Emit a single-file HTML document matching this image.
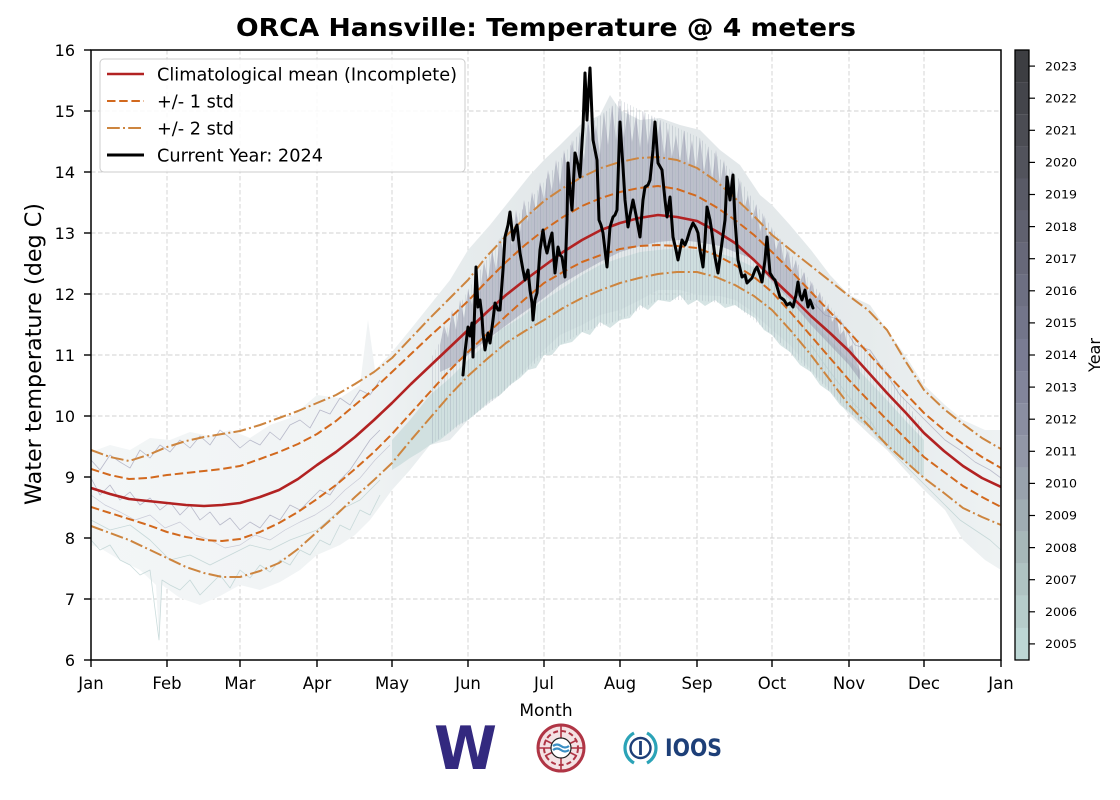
<!DOCTYPE html>
<html><head><meta charset="utf-8"><style>
html,body{margin:0;padding:0;background:#fff;}
svg{display:block;}
text{font-family:"DejaVu Sans","Liberation Sans",sans-serif;fill:#000;}
</style></head><body>
<svg width="1120" height="800" viewBox="0 0 1120 800" xmlns="http://www.w3.org/2000/svg">
<defs>
<clipPath id="plot"><rect x="91" y="50" width="910" height="610"/></clipPath>
<linearGradient id="faint" gradientUnits="userSpaceOnUse" x1="91" y1="0" x2="1001" y2="0">
<stop offset="0" stop-color="#f3f6f7"/>
<stop offset="0.3" stop-color="#f0f3f4"/>
<stop offset="0.38" stop-color="#e8edee"/>
<stop offset="0.5" stop-color="#e3e8ea"/>
<stop offset="0.72" stop-color="#e3e8ea"/>
<stop offset="0.85" stop-color="#e6ebec"/>
<stop offset="1" stop-color="#eef2f3"/>
</linearGradient>
<pattern id="spk" width="6" height="40" patternUnits="userSpaceOnUse">
<line x1="0.5" y1="0" x2="0.5" y2="40" stroke="#7f8299" stroke-width="0.7" stroke-opacity="0.35"/>
<line x1="3.5" y1="0" x2="3.5" y2="40" stroke="#9fb6b8" stroke-width="0.7" stroke-opacity="0.35"/>
</pattern>
</defs>
<rect width="1120" height="800" fill="#fff"/>

<!-- grid -->
<g stroke="#d0d0d0" stroke-width="0.9" stroke-dasharray="4.5 2.5" fill="none">
<line x1="167" y1="50" x2="167" y2="660"/><line x1="240" y1="50" x2="240" y2="660"/>
<line x1="317" y1="50" x2="317" y2="660"/><line x1="392" y1="50" x2="392" y2="660"/>
<line x1="468" y1="50" x2="468" y2="660"/><line x1="544" y1="50" x2="544" y2="660"/>
<line x1="620" y1="50" x2="620" y2="660"/><line x1="697" y1="50" x2="697" y2="660"/>
<line x1="772" y1="50" x2="772" y2="660"/><line x1="849" y1="50" x2="849" y2="660"/>
<line x1="924" y1="50" x2="924" y2="660"/>
<line x1="91" y1="111" x2="1001" y2="111"/><line x1="91" y1="172" x2="1001" y2="172"/>
<line x1="91" y1="233" x2="1001" y2="233"/><line x1="91" y1="294" x2="1001" y2="294"/>
<line x1="91" y1="355" x2="1001" y2="355"/><line x1="91" y1="416" x2="1001" y2="416"/>
<line x1="91" y1="477" x2="1001" y2="477"/><line x1="91" y1="538" x2="1001" y2="538"/>
<line x1="91" y1="599" x2="1001" y2="599"/>
</g>

<g clip-path="url(#plot)">
<!-- background traces approximated -->
<polygon fill="url(#faint)" points="91,452 110,445 130,450 150,438 170,440 190,432 210,436 230,430 250,438 270,425 290,418 317,395 340,398 360,385 368,320 375,370 392,352 410,330 430,305 450,280 468,250 490,225 510,200 530,175 544,160 560,145 580,125 600,115 610,95 620,110 640,120 660,118 680,125 700,130 720,150 740,165 760,195 772,205 790,225 811,250 830,275 849,295 870,305 887,330 905,355 924,385 945,405 963,420 985,430 1001,430 1001,570 985,560 963,540 945,510 924,490 905,470 887,450 870,435 849,415 830,390 811,370 790,345 772,330 750,310 735,300 720,296 697,295 680,290 658,290 640,300 620,310 600,315 582,325 560,335 544,350 520,375 500,395 480,410 468,420 450,440 430,445 410,470 392,490 370,520 355,535 340,545 317,555 300,570 280,582 260,590 240,585 220,596 200,605 180,598 162,585 159,640 156,585 140,570 120,560 100,548 91,545"/>
<polygon fill="#c8dbdb" fill-opacity="0.75" points="392,440 410,420 430,395 450,378 468,360 485,345 500,330 520,318 544,300 560,290 582,275 600,265 620,258 640,252 658,250 680,248 697,250 715,252 735,258 755,268 772,282 790,300 811,320 830,340 849,360 870,382 887,400 905,420 924,440 924,478 915,470 905,462 896,455 887,445 878,440 870,428 860,422 849,412 840,405 830,392 820,385 811,372 800,365 790,352 780,345 772,335 764,330 755,318 745,312 735,305 725,308 715,300 705,306 697,300 688,305 680,295 670,302 658,300 648,310 640,305 630,318 620,320 610,328 600,322 590,335 582,332 572,342 560,345 552,355 544,355 536,368 528,370 520,378 510,385 500,395 490,400 480,410 468,420 458,425 450,432 440,440 430,445 420,452 410,458 400,465 392,470"/>
<polygon fill="#8a8ca4" fill-opacity="0.44" points="440,345 444,325 448,338 452,310 456,330 460,300 464,318 468,290 472,305 476,270 480,292 484,262 488,280 492,250 496,270 500,238 504,255 508,222 512,245 516,210 520,232 524,200 528,222 532,192 536,212 540,182 544,200 548,170 552,192 556,160 560,185 564,150 568,175 572,140 576,168 580,132 584,160 588,118 592,150 596,125 600,155 604,112 608,145 612,105 616,140 620,100 624,138 628,108 632,142 636,115 640,148 644,110 648,145 652,115 656,150 660,120 664,155 668,128 672,158 676,135 680,162 684,130 688,165 692,140 696,170 700,138 704,172 708,148 712,180 716,150 720,185 724,160 728,192 732,170 736,200 740,180 744,210 748,195 752,220 756,205 760,232 764,215 768,240 772,228 776,250 780,238 784,262 788,250 792,272 796,260 800,282 804,272 808,292 812,282 816,300 820,292 824,312 828,305 832,322 836,315 840,335 844,330 848,348 852,345 856,360 860,370 860,380 849,365 830,345 811,325 790,300 772,282 760,268 750,258 735,252 720,246 697,242 680,240 658,242 640,246 620,252 600,262 582,272 560,285 544,298 520,315 500,330 480,345 468,355 455,365 440,372"/>
<polygon fill="url(#spk)" points="430,360 468,290 500,238 544,182 580,132 620,100 660,120 700,138 740,180 772,228 811,282 849,330 887,370 924,430 924,478 887,445 849,412 811,372 772,335 735,305 697,300 658,300 620,320 582,332 544,355 500,395 468,420 430,445"/>
<g fill="none" stroke-linejoin="round">
<polyline stroke="#8a8aa8" stroke-opacity="0.55" stroke-width="0.8" points="91,460 100,470 110,455 120,462 130,468 140,450 150,458 160,445 170,452 180,440 190,448 200,436 210,445 220,430 230,438 240,448 250,440 260,445 270,432 280,440 290,425 300,420 310,428 320,410 330,414 340,398 350,405 360,390 370,395 380,380"/>
<polyline stroke="#8a8aa8" stroke-opacity="0.55" stroke-width="0.8" points="91,478 100,495 110,485 120,500 130,492 140,505 150,498 160,510 170,502 180,515 190,505 200,520 210,512 220,525 230,518 240,530 250,522 260,528 270,515 280,520 290,505 300,510 310,500 320,490 330,495 340,480 350,470 360,455 370,440 380,430"/>
<polyline stroke="#9a9ab4" stroke-opacity="0.45" stroke-width="0.7" points="91,495 105,505 120,512 135,520 150,515 165,528 180,522 195,535 210,540 225,548 240,545 255,535 270,540 285,530 300,522 315,515 330,505 345,490 360,478 375,460 390,445"/>
<polyline stroke="#b5cdcd" stroke-opacity="0.7" stroke-width="0.8" points="91,540 100,550 110,545 120,560 130,565 140,575 150,570 159,640 162,580 170,585 180,590 190,580 200,595 210,585 220,575 230,588 240,570 250,578 260,565 270,572 280,560 290,565 300,550 310,555 320,540 330,545 340,525 350,530 360,510 370,515 380,495"/>
<polyline stroke="#b5cdcd" stroke-opacity="0.7" stroke-width="0.8" points="91,520 110,530 130,525 150,540 170,560 190,555 210,565 230,555 250,545 270,550 290,540 317,530 340,510 360,500 380,480"/>
<polyline stroke="#8a8aa8" stroke-opacity="0.5" stroke-width="0.8" points="811,300 825,315 840,320 855,345 870,350 885,372 900,395 915,410 930,425 945,440 960,450 975,462 990,470 1001,478"/>
<polyline stroke="#b5cdcd" stroke-opacity="0.7" stroke-width="0.8" points="811,345 825,365 840,385 855,405 870,420 885,445 900,460 915,475 930,490 945,505 960,520 975,530 990,540 1001,550"/>
</g>

<!-- climatology lines -->
<g fill="none" stroke-linejoin="round">
<polyline stroke="#cd853f" stroke-width="2" stroke-dasharray="12.8 3.2 2 3.2" points="91,450 110,457 129,461 148,455 167,447 186,441 204,437 222,434 240,431 260,425 279,418 298,411 317,403 336,395 355,384 374,372 392,358 411,338 430,318 449,299 468,280 487,256 506,236 525,218 544,201 563,188 582,177 601,168 620,162 639,158 658,157 677,160 697,168 716,181 735,198 754,216 772,235 792,251 811,266 830,281 849,296 868,310 887,330 906,362 924,390 944,409 963,424 982,438 1001,449"/>
<polyline stroke="#d2691e" stroke-width="2" stroke-dasharray="8.5 3.7" points="91,469 110,475 129,479 148,478 167,475 186,473 204,471 222,469 240,466 260,459 279,452 298,444 317,434 336,421 355,405 374,389 392,372 411,354 430,336 449,319 468,301 487,281 506,262 525,245 544,230 563,217 582,206 601,198 620,192 639,188 658,186 677,189 697,196 716,207 735,220 754,235 772,252 792,272 811,292 830,312 849,332 868,353 887,374 906,394 924,413 944,430 963,444 982,457 1001,468"/>
<polyline stroke="#b22222" stroke-width="2.6" points="91,488 110,494 129,499 148,501 167,503 186,505 204,506 222,505 240,503 260,497 279,490 298,479 317,465 336,452 355,437 374,420 392,403 411,384 430,366 449,348 468,330 487,312 506,295 525,280 544,266 563,252 582,240 601,230 620,223 639,218 658,215 677,217 697,221 716,231 735,243 754,260 772,278 792,297 811,316 830,333 849,351 868,372 887,393 906,413 924,433 944,451 963,466 982,478 1001,487"/>
<polyline stroke="#d2691e" stroke-width="2" stroke-dasharray="8.5 3.7" points="91,507 110,513 129,519 148,525 167,532 186,537 204,540 222,541 240,539 260,532 279,523 298,512 317,499 336,485 355,469 374,452 392,434 411,413 430,392 449,371 468,352 487,334 506,316 525,299 544,283 563,272 582,262 601,255 620,249 639,246 658,245 677,246 697,248 716,255 735,265 754,277 772,292 792,314 811,336 830,358 849,380 868,400 887,420 906,439 924,457 944,472 963,486 982,497 1001,507"/>
<polyline stroke="#cd853f" stroke-width="2" stroke-dasharray="12.8 3.2 2 3.2" points="91,526 110,533 129,540 148,549 167,558 186,567 204,573 222,577 240,577 260,571 279,563 298,549 317,532 336,515 355,497 374,480 392,463 411,440 430,418 449,396 468,376 487,359 506,343 525,331 544,320 563,308 582,298 601,290 620,283 639,278 658,274 677,272 697,272 716,277 735,285 754,296 772,310 792,332 811,355 830,380 849,405 868,425 887,445 906,462 924,478 944,493 963,508 982,517 1001,525"/>
</g>

<!-- current year -->
<polyline fill="none" stroke="#000" stroke-width="3" stroke-linejoin="round" stroke-linecap="round" points="463,375 465,352 468,327 470,336 472,323 473,357 475,300 476,267 478,307 480,300 482,317 483,333 485,350 488,333 490,343 493,320 495,303 498,310 500,310 503,270 505,237 508,225 510,212 513,240 515,230 517,225 520,253 523,270 525,280 528,270 530,290 532,303 533,320 535,300 537,293 540,250 543,230 545,245 547,253 550,240 552,233 555,273 558,247 560,255 562,257 565,277 567,220 568,163 570,190 572,210 575,153 578,165 580,177 583,127 585,73 587,120 588,100 590,68 593,140 595,150 597,160 599,220 601,225 603,233 605,250 607,267 610,227 613,217 615,215 617,210 619,150 620,122 623,167 625,200 628,227 630,215 633,200 636,215 640,237 643,200 645,187 648,185 650,180 653,150 655,122 658,163 662,170 665,200 667,217 670,197 673,237 676,250 678,260 680,250 682,240 685,245 687,240 690,230 693,223 696,228 698,233 700,250 703,267 705,240 707,207 710,220 712,233 715,257 718,273 721,250 725,220 727,177 730,200 733,175 735,220 738,260 742,277 745,275 747,283 750,280 752,278 755,270 757,267 760,275 762,282 765,260 767,237 770,273 773,278 775,280 778,290 780,297 784,300 787,305 790,303 793,307 796,295 798,282 800,295 802,300 805,290 808,307 810,300 813,308"/>
</g>

<!-- axes frame -->
<rect x="91" y="50" width="910" height="610" fill="none" stroke="#000" stroke-width="1.5"/>
<!-- ticks -->
<g stroke="#000" stroke-width="1.4">
<line x1="84" y1="50" x2="91" y2="50"/><line x1="84" y1="111" x2="91" y2="111"/>
<line x1="84" y1="172" x2="91" y2="172"/><line x1="84" y1="233" x2="91" y2="233"/>
<line x1="84" y1="294" x2="91" y2="294"/><line x1="84" y1="355" x2="91" y2="355"/>
<line x1="84" y1="416" x2="91" y2="416"/><line x1="84" y1="477" x2="91" y2="477"/>
<line x1="84" y1="538" x2="91" y2="538"/><line x1="84" y1="599" x2="91" y2="599"/>
<line x1="84" y1="660" x2="91" y2="660"/>
<line x1="91" y1="660" x2="91" y2="667"/><line x1="167" y1="660" x2="167" y2="667"/>
<line x1="240" y1="660" x2="240" y2="667"/><line x1="317" y1="660" x2="317" y2="667"/>
<line x1="392" y1="660" x2="392" y2="667"/><line x1="468" y1="660" x2="468" y2="667"/>
<line x1="544" y1="660" x2="544" y2="667"/><line x1="620" y1="660" x2="620" y2="667"/>
<line x1="697" y1="660" x2="697" y2="667"/><line x1="772" y1="660" x2="772" y2="667"/>
<line x1="849" y1="660" x2="849" y2="667"/><line x1="924" y1="660" x2="924" y2="667"/>
<line x1="1001" y1="660" x2="1001" y2="667"/>
</g>
<g font-size="16" text-anchor="end">
<text x="75" y="56">16</text><text x="75" y="117">15</text><text x="75" y="178">14</text>
<text x="75" y="239">13</text><text x="75" y="300">12</text><text x="75" y="361">11</text>
<text x="75" y="422">10</text><text x="75" y="483">9</text><text x="75" y="544">8</text>
<text x="75" y="605">7</text><text x="75" y="666">6</text>
</g>
<g font-size="16.5" text-anchor="middle">
<text x="91" y="689">Jan</text><text x="167" y="689">Feb</text><text x="240" y="689">Mar</text>
<text x="317" y="689">Apr</text><text x="392" y="689">May</text><text x="468" y="689">Jun</text>
<text x="544" y="689">Jul</text><text x="620" y="689">Aug</text><text x="697" y="689">Sep</text>
<text x="772" y="689">Oct</text><text x="849" y="689">Nov</text><text x="924" y="689">Dec</text>
<text x="1001" y="689">Jan</text>
</g>
<text x="546" y="716" font-size="17" text-anchor="middle">Month</text>
<text transform="translate(41,354) rotate(-90)" font-size="22" text-anchor="middle" textLength="302" lengthAdjust="spacingAndGlyphs">Water temperature (deg C)</text>
<text x="546" y="36" font-size="25" font-weight="bold" text-anchor="middle" textLength="620" lengthAdjust="spacingAndGlyphs">ORCA Hansville: Temperature @ 4 meters</text>

<!-- legend -->
<rect x="100" y="59" width="365" height="113" rx="4" fill="#fff" fill-opacity="0.85" stroke="#cccccc" stroke-width="1"/>
<line x1="107" y1="74" x2="144" y2="74" stroke="#b22222" stroke-width="2.6"/>
<line x1="107" y1="101" x2="144" y2="101" stroke="#d2691e" stroke-width="2" stroke-dasharray="8.5 3.7"/>
<line x1="107" y1="128" x2="144" y2="128" stroke="#cd853f" stroke-width="2" stroke-dasharray="12.8 3.2 2 3.2"/>
<line x1="107" y1="155" x2="144" y2="155" stroke="#000" stroke-width="3"/>
<g font-size="17.5">
<text x="157" y="80.5" textLength="300" lengthAdjust="spacingAndGlyphs">Climatological mean (Incomplete)</text>
<text x="157" y="107.5" textLength="77" lengthAdjust="spacingAndGlyphs">+/- 1 std</text>
<text x="157" y="134.5" textLength="77" lengthAdjust="spacingAndGlyphs">+/- 2 std</text>
<text x="157" y="161.5" textLength="166" lengthAdjust="spacingAndGlyphs">Current Year: 2024</text>
</g>

<!-- colorbar -->
<g>
<rect x="1015" y="50.00" width="14" height="32.2" fill="#3d3e42"/>
<rect x="1015" y="82.11" width="14" height="32.2" fill="#44454b"/>
<rect x="1015" y="114.21" width="14" height="32.2" fill="#4b4c53"/>
<rect x="1015" y="146.32" width="14" height="32.2" fill="#52535c"/>
<rect x="1015" y="178.42" width="14" height="32.2" fill="#595a66"/>
<rect x="1015" y="210.53" width="14" height="32.2" fill="#60616f"/>
<rect x="1015" y="242.63" width="14" height="32.2" fill="#676879"/>
<rect x="1015" y="274.74" width="14" height="32.2" fill="#6d6f82"/>
<rect x="1015" y="306.84" width="14" height="32.2" fill="#73758a"/>
<rect x="1015" y="338.95" width="14" height="32.2" fill="#7a7c93"/>
<rect x="1015" y="371.05" width="14" height="32.2" fill="#82859a"/>
<rect x="1015" y="403.16" width="14" height="32.2" fill="#8a8ea1"/>
<rect x="1015" y="435.26" width="14" height="32.2" fill="#9297a7"/>
<rect x="1015" y="467.37" width="14" height="32.2" fill="#99a2ad"/>
<rect x="1015" y="499.47" width="14" height="32.2" fill="#a0adb3"/>
<rect x="1015" y="531.58" width="14" height="32.2" fill="#a7b8b9"/>
<rect x="1015" y="563.68" width="14" height="32.2" fill="#afc3c2"/>
<rect x="1015" y="595.79" width="14" height="32.2" fill="#b6cdcb"/>
<rect x="1015" y="627.89" width="14" height="32.11" fill="#bdd7d5"/>
<rect x="1015" y="50" width="14" height="610" fill="none" stroke="#000" stroke-width="1.3"/>
</g>
<g stroke="#000" stroke-width="1.2">
<line x1="1029" y1="66.1" x2="1035" y2="66.1"/><line x1="1029" y1="98.2" x2="1035" y2="98.2"/>
<line x1="1029" y1="130.3" x2="1035" y2="130.3"/><line x1="1029" y1="162.4" x2="1035" y2="162.4"/>
<line x1="1029" y1="194.5" x2="1035" y2="194.5"/><line x1="1029" y1="226.6" x2="1035" y2="226.6"/>
<line x1="1029" y1="258.7" x2="1035" y2="258.7"/><line x1="1029" y1="290.8" x2="1035" y2="290.8"/>
<line x1="1029" y1="322.9" x2="1035" y2="322.9"/><line x1="1029" y1="355.0" x2="1035" y2="355.0"/>
<line x1="1029" y1="387.1" x2="1035" y2="387.1"/><line x1="1029" y1="419.2" x2="1035" y2="419.2"/>
<line x1="1029" y1="451.3" x2="1035" y2="451.3"/><line x1="1029" y1="483.4" x2="1035" y2="483.4"/>
<line x1="1029" y1="515.5" x2="1035" y2="515.5"/><line x1="1029" y1="547.6" x2="1035" y2="547.6"/>
<line x1="1029" y1="579.7" x2="1035" y2="579.7"/><line x1="1029" y1="611.8" x2="1035" y2="611.8"/>
<line x1="1029" y1="643.9" x2="1035" y2="643.9"/>
</g>
<g font-size="11.5">
<text x="1045" y="70.3" textLength="32" lengthAdjust="spacingAndGlyphs">2023</text>
<text x="1045" y="102.4" textLength="32" lengthAdjust="spacingAndGlyphs">2022</text>
<text x="1045" y="134.5" textLength="32" lengthAdjust="spacingAndGlyphs">2021</text>
<text x="1045" y="166.6" textLength="32" lengthAdjust="spacingAndGlyphs">2020</text>
<text x="1045" y="198.7" textLength="32" lengthAdjust="spacingAndGlyphs">2019</text>
<text x="1045" y="230.8" textLength="32" lengthAdjust="spacingAndGlyphs">2018</text>
<text x="1045" y="262.9" textLength="32" lengthAdjust="spacingAndGlyphs">2017</text>
<text x="1045" y="295.0" textLength="32" lengthAdjust="spacingAndGlyphs">2016</text>
<text x="1045" y="327.1" textLength="32" lengthAdjust="spacingAndGlyphs">2015</text>
<text x="1045" y="359.2" textLength="32" lengthAdjust="spacingAndGlyphs">2014</text>
<text x="1045" y="391.3" textLength="32" lengthAdjust="spacingAndGlyphs">2013</text>
<text x="1045" y="423.4" textLength="32" lengthAdjust="spacingAndGlyphs">2012</text>
<text x="1045" y="455.5" textLength="32" lengthAdjust="spacingAndGlyphs">2011</text>
<text x="1045" y="487.6" textLength="32" lengthAdjust="spacingAndGlyphs">2010</text>
<text x="1045" y="519.7" textLength="32" lengthAdjust="spacingAndGlyphs">2009</text>
<text x="1045" y="551.8" textLength="32" lengthAdjust="spacingAndGlyphs">2008</text>
<text x="1045" y="583.9" textLength="32" lengthAdjust="spacingAndGlyphs">2007</text>
<text x="1045" y="616.0" textLength="32" lengthAdjust="spacingAndGlyphs">2006</text>
<text x="1045" y="648.1" textLength="32" lengthAdjust="spacingAndGlyphs">2005</text>
</g>
<text transform="translate(1100,355) rotate(-90)" font-size="16" text-anchor="middle">Year</text>

<!-- logos -->
<text x="465.5" y="769" font-family="'Liberation Serif',serif" font-weight="bold" font-size="60" text-anchor="middle" textLength="63" lengthAdjust="spacingAndGlyphs" style="fill:#33297f">W</text>
<g>
<circle cx="561" cy="748" r="23" fill="#f4e2e4" stroke="#b03545" stroke-width="3"/>
<circle cx="561" cy="748" r="17" fill="none" stroke="#b03545" stroke-width="2" stroke-dasharray="5 3"/>
<path d="M545,740 L577,756 M545,756 L577,740 M561,726 L561,770 M539,748 L583,748" stroke="#b03545" stroke-width="1.6" fill="none"/>
<circle cx="561" cy="748" r="10" fill="#fff" stroke="#222" stroke-width="1.2"/>
<path d="M553,746 q4,-3 8,0 t8,0 M553,750 q4,-3 8,0 t8,0" stroke="#3b8fc4" stroke-width="2.2" fill="none"/>
</g>
<g>
<path d="M634,733 A17,17 0 0 0 634,763" stroke="#2ba3b7" stroke-width="3.2" fill="none"/>
<path d="M647,733 A17,17 0 0 1 647,763" stroke="#2ba3b7" stroke-width="3.2" fill="none"/>
<circle cx="640.5" cy="748" r="10" fill="none" stroke="#1d3f78" stroke-width="2.4"/>
<line x1="640.5" y1="741" x2="640.5" y2="755" stroke="#1d3f78" stroke-width="2.8"/>
<text x="665" y="756" font-family="'Liberation Sans',sans-serif" font-weight="bold" font-size="24" textLength="57" lengthAdjust="spacingAndGlyphs" style="fill:#1d3f78">IOOS</text>
</g>
</svg>
</body></html>
